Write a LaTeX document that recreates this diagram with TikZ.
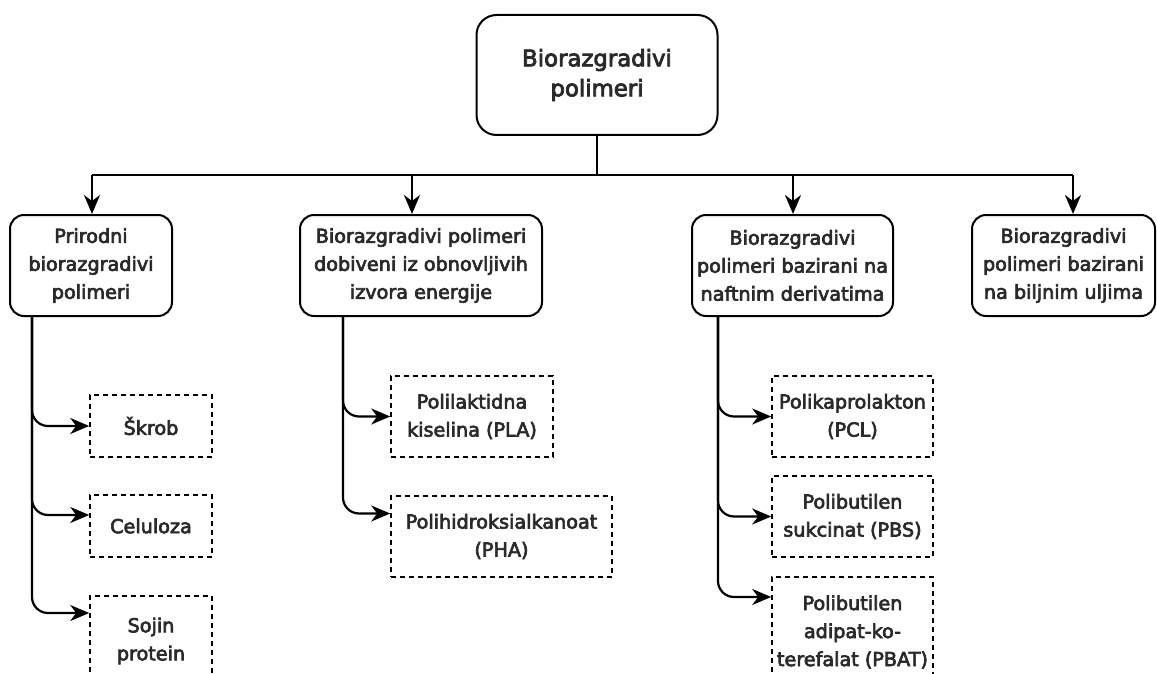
\documentclass[tikz,border=0pt]{standalone}
\usepackage{fontspec}
\setmainfont{DejaVu Sans}[FakeBold=3.5]
\usetikzlibrary{arrows.meta}
\definecolor{txtcolor}{HTML}{2A2A2A}

\tikzset{
    catbox/.style={draw, rounded corners=14pt, line width=2pt, align=center, text=txtcolor,
        font=\fontsize{19.2}{28}\selectfont, inner sep=0pt, minimum height=101pt},
    subbox/.style={draw, dash pattern=on 5pt off 4pt, line width=1.6pt, align=center, text=txtcolor,
        font=\fontsize{19.2}{28}\selectfont, inner sep=0pt, minimum width=162pt},
    arr/.style={-{Stealth[length=19pt, width=16pt, inset=6pt]}, line width=2.2pt},
    branch/.style={arr, rounded corners=16pt}
}

\begin{document}
\begin{tikzpicture}[x=1pt, y=-1pt]

    \useasboundingbox (0,0) rectangle (1157,674);

    % Root node
    \node[catbox, rounded corners=20pt, minimum width=241pt, minimum height=120pt,
        font=\fontsize{22.8}{30}\selectfont] (root) at (597,75) {Biorazgradivi\\polimeri};

    % Categories
    \node[catbox, minimum width=162pt] (prirodni) at (91,265.5) {Prirodni\\biorazgradivi\\polimeri};
    \node[catbox, minimum width=242pt] (obnovljivi) at (421,265.5) {Biorazgradivi polimeri\\dobiveni iz obnovljivih\\izvora energije};
    \node[catbox, minimum width=201pt] (naftni) at (792.5,265.5) {Biorazgradivi\\polimeri bazirani na\\naftnim derivatima};
    \node[catbox, minimum width=183pt] (biljni) at (1063.5,265.5) {Biorazgradivi\\polimeri bazirani\\na biljnim uljima};

    % Bus from root to categories
    \coordinate (b1) at (92,175);
    \coordinate (b2) at (412,175);
    \coordinate (b3) at (793,175);
    \coordinate (b4) at (1073,175);
    \draw[line width=2pt] (root.south) -- (root.south |- b1);
    \draw[line width=2pt] (b1) -- (b4);
    \draw[arr] (b1) -- (b1 |- prirodni.north);
    \draw[arr] (b2) -- (b2 |- obnovljivi.north);
    \draw[arr] (b3) -- (b3 |- naftni.north);
    \draw[arr] (b4) -- (b4 |- biljni.north);

    % Examples under each category
    \node[subbox, minimum width=122pt, minimum height=62pt] (skrob) at (151,426) {Škrob};
    \node[subbox, minimum width=122pt, minimum height=62pt] (celuloza) at (151,526) {Celuloza};
    \node[subbox, minimum width=122pt, minimum height=90pt] (sojin) at (151,641) {Sojin\\protein};

    \node[subbox, minimum height=81pt] (pla) at (472,416.5) {Polilaktidna\\kiselina (PLA)};
    \node[subbox, minimum width=221pt, minimum height=81pt] (pha) at (501.5,536.5) {Polihidroksialkanoat\\(PHA)};

    \node[subbox, minimum width=161pt, minimum height=81pt] (pcl) at (852.5,416.5) {Polikaprolakton\\(PCL)};
    \node[subbox, minimum width=161pt, minimum height=81pt] (pbs) at (852.5,516.5) {Polibutilen\\sukcinat (PBS)};
    \node[subbox, minimum width=161pt, minimum height=110pt] (pbat) at (852.5,632) {Polibutilen\\adipat-ko-\\terefalat (PBAT)};

    % Branch lines
    \coordinate (s1) at (32,316);
    \coordinate (s2) at (343,316);
    \coordinate (s3) at (718,316);
    \draw[branch] (s1) |- (skrob.west);
    \draw[branch] (s1) |- ([yshift=11pt]celuloza.west);
    \draw[branch] (s1) |- ([yshift=28pt]sojin.west);
    \draw[branch] (s2) |- (pla.west);
    \draw[branch] (s2) |- ([yshift=23pt]pha.west);
    \draw[branch] (s3) |- (pcl.west);
    \draw[branch] (s3) |- (pbs.west);
    \draw[branch] (s3) |- ([yshift=35pt]pbat.west);

\end{tikzpicture}
\end{document}
